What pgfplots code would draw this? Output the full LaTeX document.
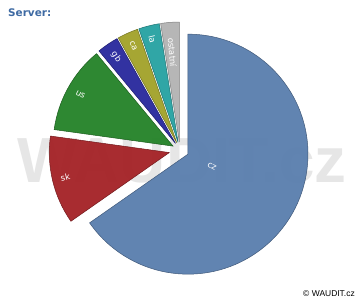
\documentclass[border=0pt]{standalone}
\usepackage{pgfplots}
\pgfplotsset{compat=1.18}
\usepackage{pgfplotstable}
\usepackage{fontspec}
\setmainfont{DejaVu Sans}
\newfontfamily\libsans{Liberation Sans}
\definecolor{czc}{HTML}{5B7FAE}
\definecolor{skc}{HTML}{A52428}
\definecolor{usc}{HTML}{26842A}
\definecolor{gbc}{HTML}{2A2A9E}
\definecolor{cac}{HTML}{A3A32B}
\definecolor{lac}{HTML}{28A3A3}
\definecolor{ostc}{HTML}{B4B4B4}
\definecolor{titlec}{HTML}{3E6AA3}
\definecolor{wmc}{HTML}{E6E6E6}
\pgfplotstableread{
name value explode labelr col
ostatní 2.5 8 90 ostc
la 2.8 8 106 lac
ca 2.8 8 106 cac
gb 2.9 8 105 gbc
us 11.8 8 106 usc
sk 11.9 11 107 skc
cz 65.3 9 27 czc
}\piedata
\begin{document}
\begin{tikzpicture}
\begin{axis}[x=1bp, y=1bp, xmin=0, xmax=360, ymin=0, ymax=300,
  hide axis, clip=false, scale only axis]
\pgfplotsextra{
  \fill[white] (axis cs:0,0) rectangle (axis cs:360,300);
  \node[anchor=base, inner sep=0pt, text=wmc,
    font=\libsans\bfseries\fontsize{64}{64}\selectfont] at (axis cs:182,118) {WAUDIT.cz};
  \xdef\cum{90}
  \pgfplotsforeachungrouped \i in {0,...,6}{
    \pgfplotstablegetelem{\i}{value}\of\piedata \let\v\pgfplotsretval
    \pgfplotstablegetelem{\i}{explode}\of\piedata \let\ex\pgfplotsretval
    \pgfplotstablegetelem{\i}{labelr}\of\piedata \let\lr\pgfplotsretval
    \pgfplotstablegetelem{\i}{col}\of\piedata \let\col\pgfplotsretval
    \pgfplotstablegetelem{\i}{name}\of\piedata \let\nm\pgfplotsretval
    \pgfmathsetmacro\aS{\cum}
    \pgfmathsetmacro\aE{\cum+3.6*\v}
    \pgfmathsetmacro\aM{(\aS+\aE)/2}
    \pgfmathsetmacro\vx{180+\ex*cos(\aM)}
    \pgfmathsetmacro\vy{150+\ex*sin(\aM)}
    \pgfmathsetmacro\lx{\vx+\lr*cos(\aM)}
    \pgfmathsetmacro\ly{\vy+\lr*sin(\aM)}
    \pgfmathsetmacro\rot{cos(\aM)<0 ? \aM-180 : \aM}
    \fill[fill=\col, fill opacity=0.96, draw=\col!70!black, line width=0.5bp]
      (axis cs:\vx,\vy) -- ++(\aS:120bp) arc[start angle=\aS, end angle=\aE, radius=120bp] -- cycle;
    \node[text=white, rotate=\rot, inner sep=0pt, font=\fontsize{8.5}{9}\selectfont]
      at (axis cs:\lx,\ly) {\nm};
    \xdef\cum{\aE}
  }
  \node[anchor=base west, inner sep=0pt, text=titlec,
    font=\bfseries\fontsize{10.5}{12}\selectfont] at (axis cs:8,284) {Server:};
  \node[anchor=base east, inner sep=0pt,
    font=\libsans\fontsize{8.5}{10}\selectfont] at (axis cs:355,4) {© WAUDIT.cz};
}
\end{axis}
\end{tikzpicture}
\end{document}
